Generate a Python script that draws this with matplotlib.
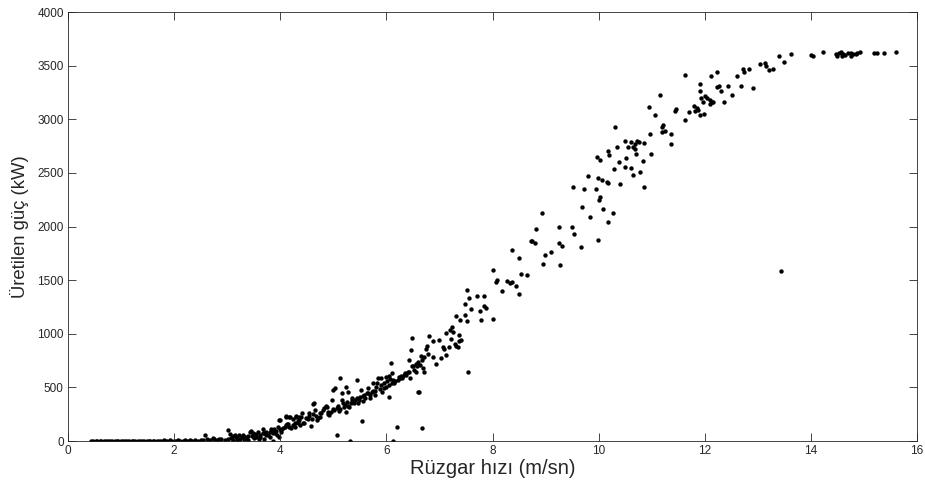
import matplotlib.pyplot as plt

# Rüzgar hızı (m/sn) ve üretilen güç (kW), grafikten okunan noktalar
hiz_sifir = [0.43, 0.47, 0.52, 0.55, 0.60, 0.63, 0.68, 0.72, 0.75, 0.80, 0.83, 0.88,
             0.92, 0.95, 1.00, 1.03, 1.07, 1.12, 1.15, 1.20, 1.23, 1.27, 1.32, 1.35,
             1.40, 1.43, 1.48, 1.52, 1.55, 1.60, 1.63, 1.67, 1.72, 1.75, 1.80, 1.83,
             1.87, 1.92, 1.95, 2.00, 2.04, 2.08, 2.12, 2.17, 2.20, 2.25, 2.30, 2.34,
             2.40, 2.45, 2.50, 2.55, 2.62, 2.68, 2.75, 2.80, 2.88, 2.95, 3.02, 3.10,
             3.18, 3.25, 3.32, 3.40, 3.50, 3.60, 3.70]
guc_sifir = [0, 0, 0, 0, 0, 0, 0, 0, 0, 0, 0, 0,
             0, 0, 0, 0, 0, 0, 0, 0, 0, 0, 0, 0,
             0, 0, 0, 0, 0, 0, 0, 0, 0, 0, 5, 0,
             3, 8, 0, 4, 0, 6, 0, 2, 5, 0, 8, 3,
             10, 4, 12, 6, 15, 8, 20, 10, 16, 12, 20, 14,
             10, 22, 18, 12, 25, 15, 20]

hiz_dusuk = [2.58, 2.73, 2.85, 3.01, 3.05, 3.11, 3.17, 3.23, 3.27, 3.33, 3.39, 3.43,
             3.45, 3.48, 3.55, 3.55, 3.58, 3.61, 3.67, 3.67, 3.70, 3.73, 3.77, 3.80,
             3.83, 3.86, 3.87, 3.89, 3.92, 3.95, 3.98, 3.98, 4.00, 4.02, 4.02, 4.05,
             4.10, 4.11, 4.11, 4.17, 4.17, 4.19, 4.24, 4.27, 4.30, 4.30, 4.33, 4.35,
             4.39, 4.41, 4.45, 4.52, 4.55, 4.57, 4.61, 4.64, 4.66, 4.70, 4.74, 4.77,
             4.80, 4.86, 4.89, 4.92, 4.98, 4.99, 5.02, 5.04, 5.06, 5.06, 5.10, 5.13,
             5.16, 5.17, 5.21, 5.24, 5.24, 5.26, 5.27, 5.30, 5.31, 5.33, 5.36, 5.41,
             5.44, 5.46, 5.50, 5.52, 5.54, 5.56, 5.60, 5.63, 5.66, 5.69, 5.74, 5.75,
             5.79, 5.83, 5.85, 5.88, 5.90, 5.92, 5.96, 5.99, 6.00, 6.04, 6.04, 6.05,
             6.08, 6.10, 6.11, 6.13, 6.15, 6.17, 6.19, 6.21, 6.23, 6.25, 6.29, 6.30,
             6.35, 6.37, 6.40, 6.43, 6.45, 6.46, 6.48, 6.49, 6.52, 6.55, 6.58, 6.60]
guc_dusuk = [56, 25, 16, 103, 62, 47, 40, 56, 34, 40, 47, 87,
             93, 72, 56, 40, 87, 34, 109, 72, 72, 87, 56, 87,
             109, 72, 0, 109, 96, 134, 196, 35, 196, 103, 87, 118,
             150, 221, 234, 134, 227, 221, 150, 165, 221, 234, 165, 196,
             227, 265, 165, 203, 259, 140, 346, 358, 290, 196, 227, 259,
             290, 327, 274, 243, 383, 477, 290, 493, 306, 56, 283, 586,
             383, 446, 321, 508, 274, 368, 461, 315, 3, 352, 399, 383,
             570, 358, 414, 477, 190, 377, 399, 446, 493, 399, 539, 470,
             430, 539, 586, 483, 586, 461, 493, 508, 601, 414, 524, 608,
             726, 633, 539, 0, 539, 555, 134, 570, 601, 586, 586, 601,
             633, 617, 648, 757, 586, 844, 695, 960, 664, 639, 695, 461]

# yoğun bant (3-6.7 m/sn) için ek noktalar
hiz_bant = [3.08, 3.14, 3.20, 3.30, 3.36, 3.47, 3.52, 3.62, 3.74, 3.80, 3.84, 3.90,
            3.94, 4.00, 4.08, 4.13, 4.15, 4.20, 4.24, 4.27, 4.33, 4.36, 4.38, 4.42,
            4.49, 4.55, 4.59, 4.62, 4.68, 4.72, 4.75, 4.83, 4.88, 4.90, 4.95, 5.00,
            5.08, 5.12, 5.18, 5.22, 5.28, 5.35, 5.38, 5.45, 5.48, 5.55, 5.58, 5.65,
            5.70, 5.72, 5.78, 5.80, 5.90, 5.95, 6.02, 6.07, 6.12, 6.27, 6.33, 6.42,
            6.50, 6.56, 6.60, 6.65]
guc_bant = [30, 55, 20, 60, 28, 45, 62, 55, 60, 40, 90, 70,
            55, 112, 134, 160, 156, 118, 206, 134, 187, 227, 150, 165,
            212, 230, 206, 250, 230, 212, 265, 306, 321, 250, 270, 300,
            330, 300, 350, 340, 330, 380, 350, 400, 380, 420, 430, 450,
            430, 460, 470, 500, 520, 540, 560, 580, 570, 610, 620, 640,
            700, 720, 740, 790]

hiz_orta = [6.62, 6.63, 6.67, 6.67, 6.68, 6.71, 6.71, 6.74, 6.77, 6.79, 6.80, 6.87,
            6.87, 6.94, 6.99, 7.03, 7.07, 7.09, 7.12, 7.12, 7.17, 7.19, 7.21, 7.24,
            7.26, 7.29, 7.31, 7.31, 7.34, 7.36, 7.37, 7.39, 7.40, 7.48, 7.48, 7.52,
            7.52, 7.54, 7.56, 7.59, 7.70, 7.76, 7.78, 7.83, 7.84, 7.87, 8.01, 8.01,
            8.06, 8.09, 8.18, 8.28, 8.33, 8.37, 8.37, 8.45, 8.50, 8.50, 8.53, 8.64,
            8.72, 8.75, 8.80, 8.82, 8.93, 8.95, 8.98, 9.10, 9.25, 9.25, 9.28, 9.31,
            9.49, 9.52, 9.54, 9.67, 9.69, 9.73, 9.80, 9.84, 9.94, 9.97, 9.98, 9.99,
            10.00, 10.03, 10.03, 10.06, 10.09, 10.16, 10.17, 10.17, 10.17, 10.20, 10.27, 10.28,
            10.31, 10.35, 10.39, 10.41, 10.50, 10.50, 10.51, 10.55, 10.60, 10.61, 10.64, 10.64,
            10.68, 10.69, 10.71, 10.72, 10.75, 10.77, 10.83, 10.86, 10.86, 10.94, 10.96, 10.99]
guc_orta = [461, 711, 757, 118, 680, 648, 788, 857, 882, 813, 975, 782,
            935, 720, 944, 773, 876, 857, 804, 1007, 872, 1038, 954, 1063,
            1013, 904, 882, 1162, 872, 928, 985, 1125, 944, 1172, 1281, 1405,
            1115, 639, 1334, 1234, 1356, 1216, 1131, 1262, 1356, 1240, 1599, 1141,
            1480, 1505, 1402, 1489, 1474, 1483, 1777, 1449, 1708, 1371, 1561, 1552,
            1863, 1863, 1848, 1973, 2122, 1655, 1730, 1764, 1992, 1848, 1639, 1817,
            1992, 2372, 1932, 1811, 2185, 2347, 2471, 2091, 2353, 2649, 1873, 2456,
            2247, 2278, 2621, 2434, 2166, 2415, 2409, 2041, 2705, 2665, 2122, 2534,
            2924, 2737, 2602, 2400, 2793, 2559, 2640, 2743, 2550, 2789, 2746, 2478,
            2768, 2721, 2674, 2799, 2789, 2509, 2612, 2783, 2369, 3111, 2861, 2680]

hiz_yuksek = [11.07, 11.16, 11.19, 11.20, 11.22, 11.24, 11.37, 11.37, 11.43, 11.46, 11.62, 11.62,
              11.70, 11.80, 11.82, 11.85, 11.88, 11.90, 11.90, 11.91, 11.93, 11.96, 11.99, 12.01,
              12.04, 12.09, 12.10, 12.12, 12.13, 12.16, 12.22, 12.22, 12.26, 12.30, 12.36, 12.43,
              12.52, 12.60, 12.69, 12.71, 12.73, 12.84, 12.91, 13.03, 13.13, 13.16, 13.21, 13.29,
              13.40, 13.44, 13.49, 13.62, 14.00, 14.04, 14.22, 14.47, 14.49, 14.53, 14.56, 14.59,
              14.60, 14.65, 14.70, 14.75, 14.75, 14.79, 14.84, 14.87, 14.92, 15.18, 15.25, 15.37,
              15.60]
guc_yuksek = [3042, 3229, 2924, 2877, 2945, 2892, 2861, 2774, 3079, 3095, 2995, 3416,
              3070, 3120, 3079, 3101, 3088, 3329, 3266, 3039, 3198, 3157, 3048, 3213,
              3195, 3182, 3142, 3401, 3163, 3157, 3437, 3298, 3307, 3266, 3157, 3313,
              3229, 3407, 3313, 3469, 3444, 3469, 3288, 3516, 3528, 3494, 3460, 3469,
              3593, 1585, 3537, 3609, 3600, 3587, 3625, 3609, 3593, 3618, 3625, 3587,
              3609, 3600, 3618, 3593, 3618, 3609, 3609, 3618, 3625, 3616, 3618, 3618,
              3625]

hiz = hiz_sifir + hiz_dusuk + hiz_bant + hiz_orta + hiz_yuksek
guc = guc_sifir + guc_dusuk + guc_bant + guc_orta + guc_yuksek

plt.rcParams['font.family'] = ['Liberation Sans', 'DejaVu Sans']
koyu = '#262626'

fig = plt.figure(figsize=(9.25, 4.88), dpi=100)
ax = fig.add_axes([0.0735, 0.0963, 0.918, 0.879])
ax.scatter(hiz, guc, s=10, c='black', linewidths=0)

ax.set_xlim(0, 16)
ax.set_ylim(0, 4000)
ax.set_xticks(range(0, 17, 2))
ax.set_yticks(range(0, 4001, 500))
ax.tick_params(direction='in', length=6, width=0.6, top=True, right=True,
               labelsize=8.5, colors=koyu, pad=3)
for s in ax.spines.values():
    s.set_linewidth(0.6)
    s.set_color(koyu)

ax.set_xlabel('Rüzgar hızı (m/sn)', fontsize=14.5, color=koyu, labelpad=1)
ax.set_ylabel('Üretilen güç (kW)', fontsize=13.3, color=koyu, labelpad=6)

fig.savefig('out.png', dpi=100)
